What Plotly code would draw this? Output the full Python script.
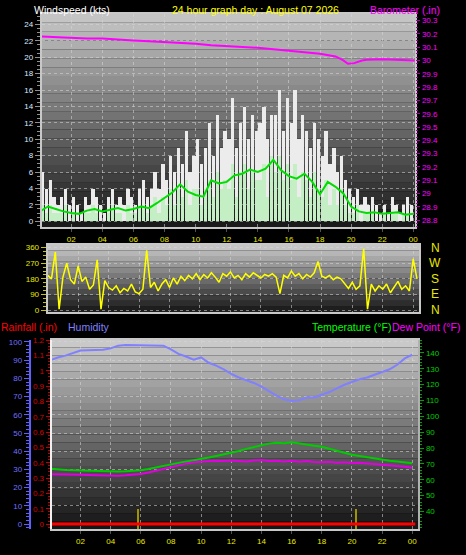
import plotly.graph_objects as go

W, H = 466, 555


def fx(px):
    return px / W


def fy(py):
    return 1 - py / H


# ---------------- data ----------------
hour_ticks = [2, 4, 6, 8, 10, 12, 14, 16, 18, 20, 22, 24]
hour_labels = ["02", "04", "06", "08", "10", "12", "14", "16", "18", "20", "22", "00"]

# wind (kts), 15-minute samples
wind_hours = [0.125 + 0.25 * i for i in range(96)]
gust = [
    6, 4, 5, 3, 2, 3, 4, 2, 3, 2, 1, 3, 2, 4, 3, 2, 1, 3, 4, 2, 3, 2, 4, 3,
    2, 4, 5, 3, 4, 6, 4, 7, 5, 8, 6, 9, 7, 11, 6, 8, 10, 7, 9, 12, 8, 13, 9, 11,
    10, 15, 9, 12, 14, 10, 13, 11, 12, 14, 10, 13, 13, 16, 11, 15, 12, 16, 10, 13, 11, 9, 12, 10,
    8, 11, 7, 9, 6, 8, 5, 4, 3, 4, 2, 3, 2, 3, 2, 1, 2, 1, 3, 2, 1, 2, 3, 2,
]
speed = [
    2, 1, 2, 1, 1, 1, 2, 0, 1, 0, 0, 1, 1, 2, 1, 0, 0, 1, 2, 1, 1, 0, 2, 1,
    1, 2, 2, 1, 2, 3, 1, 3, 2, 4, 2, 4, 3, 5, 2, 4, 4, 2, 4, 5, 3, 6, 4, 5,
    4, 7, 3, 6, 7, 4, 6, 5, 5, 7, 3, 8, 6, 8, 5, 7, 5, 7, 3, 6, 5, 3, 6, 4,
    3, 5, 2, 4, 2, 4, 2, 1, 1, 2, 0, 1, 1, 1, 0, 0, 1, 0, 1, 1, 0, 1, 1, 0,
]
avg_hours = [0.5 * i for i in range(49)]
avg_wind = [
    1.2, 1.8, 1.5, 1.2, 1.0, 0.9, 1.3, 1.5, 1.2, 1.4, 1.6, 1.3, 1.5, 1.8, 1.6, 2.2,
    2.8, 3.5, 4.5, 3.6, 3.2, 3.0, 5.0, 4.6, 4.8, 5.6, 5.8, 6.3, 6.0, 6.4, 7.5, 6.2,
    5.5, 5.2, 5.8, 4.8, 3.3, 4.8, 4.2, 3.4, 1.8, 1.2, 1.0, 1.1, 0.9, 1.0, 1.1, 0.8, 0.9,
]

# barometer (in)
baro_hours = [0.1, 1, 2, 3, 4, 5, 6, 7, 8, 9, 10, 11, 12, 13, 14, 15, 16, 17, 18, 19,
              19.5, 19.8, 20.2, 20.7, 21, 22, 23, 24, 24.1]
baro = [30.18, 30.175, 30.17, 30.165, 30.165, 30.155, 30.15, 30.145, 30.14, 30.135,
        30.125, 30.115, 30.11, 30.10, 30.095, 30.085, 30.075, 30.065, 30.05, 30.03,
        30.0, 29.975, 29.98, 30.0, 30.005, 30.01, 30.005, 30.0, 30.0]

# wind direction (degrees), 15-minute samples
dir_hours = [0.25 * i for i in range(98)]
wind_dir = [
    200, 180, 335, 5, 190, 270, 175, 150, 255, 165, 190, 120, 145, 290, 5, 170,
    130, 115, 140, 100, 125, 110, 150, 105, 95, 120, 345, 130, 160, 110, 150, 175,
    130, 185, 150, 195, 170, 200, 180, 210, 175, 205, 185, 215, 190, 160, 210, 195,
    220, 185, 200, 175, 210, 190, 215, 200, 185, 205, 195, 210, 190, 95, 200, 185,
    225, 195, 210, 180, 205, 190, 215, 280, 195, 185, 200, 175, 190, 180, 150, 125,
    160, 120, 140, 355, 5, 150, 110, 140, 120, 150, 100, 135, 165, 120, 140, 110,
    295, 180,
]

# humidity / temperature / dew point, 30-minute samples
thh_hours = [0.5 * i for i in range(49)]
humidity = [
    90, 91.5, 92.5, 94, 95.3, 95.5, 95.5, 95.7, 96.5, 98, 98.4, 98.4, 98.4, 98.4, 98.4, 98,
    96, 93.5, 92, 90.3, 91.5, 88.6, 87, 85, 82.5, 80.5, 79, 77.5, 75.5, 73, 70.5, 68.5,
    67.6, 68.0, 69.5, 69.5, 71, 72.5, 74.5, 76.5, 78, 79.5, 80.5, 82, 83.5, 85, 87.5, 91, 93,
]
temperature = [
    67.0, 66.5, 66.2, 66.0, 65.8, 65.6, 65.5, 65.4, 65.3, 65.2, 65.4, 65.6, 66.0, 66.8, 67.8, 68.8,
    69.8, 70.8, 71.6, 72.3, 73.0, 74.0, 75.0, 76.0, 77.0, 78.2, 79.5, 80.6, 81.8, 82.8, 83.3, 83.0,
    83.6, 83.0, 82.5, 81.5, 80.8, 79.5, 78.0, 76.8, 75.8, 75.0, 74.2, 73.4, 72.6, 72.0, 71.5, 70.8, 70.5,
]
dewpoint = [
    63.5, 63.5, 63.4, 63.3, 63.2, 63.0, 62.8, 62.7, 62.6, 62.6, 62.8, 63.0, 63.6, 64.6, 65.8, 67.0,
    68.2, 69.3, 70.2, 71.0, 71.6, 71.8, 72.0, 71.8, 72.2, 72.0, 71.6, 72.2, 72.4, 71.8, 72.0, 71.6,
    72.0, 71.4, 71.8, 71.2, 71.0, 71.4, 70.8, 71.0, 70.6, 70.8, 70.4, 70.0, 69.8, 69.4, 68.8, 68.2, 67.6,
]

# rainfall (in)
rain_hours = [0.1, 24.2]
rainfall = [0.0, 0.0]
mark_hours = [5.8, 20.25]
mark_len = [0.13, 0.13]

baro_ticks = [28.8, 28.9, 29.0, 29.1, 29.2, 29.3, 29.4, 29.5, 29.6, 29.7, 29.8, 29.9, 30.0, 30.1, 30.2, 30.3]
baro_labels = ["28.8", "28.9", "29", "29.1", "29.2", "29.3", "29.4", "29.5", "29.6", "29.7",
               "29.8", "29.9", "30", "30.1", "30.2", "30.3"]
rain_ticks = [0, 0.1, 0.2, 0.3, 0.4, 0.5, 0.6, 0.7, 0.8, 0.9, 1.0, 1.1, 1.2]
rain_labels = ["0", "0.1", "0.2", "0.3", "0.4", "0.5", "0.6", "0.7", "0.8", "0.9", "1", "1.1", "1.2"]

# ---------------- figure ----------------
FONT = "Liberation Sans, Arial, sans-serif"
GRID = "rgba(215,215,215,0.55)"
TICK_SIZE = 8

fig = go.Figure()

fig.add_trace(go.Bar(x=wind_hours, y=gust, width=0.21, marker=dict(color="#ececec", line=dict(width=0)),
                     xaxis="x", yaxis="y"))
fig.add_trace(go.Bar(x=wind_hours, y=speed, width=0.21, marker=dict(color="#c4eec4", line=dict(width=0)),
                     xaxis="x", yaxis="y"))
fig.add_trace(go.Scatter(x=avg_hours, y=avg_wind, mode="lines", line=dict(color="#00dd00", width=2),
                         xaxis="x", yaxis="y"))
fig.add_trace(go.Scatter(x=baro_hours, y=baro, mode="lines", line=dict(color="#ff00ff", width=2),
                         xaxis="x", yaxis="y2"))
fig.add_trace(go.Scatter(x=dir_hours, y=wind_dir, mode="lines", line=dict(color="#ffff00", width=1.5),
                         xaxis="x3", yaxis="y3"))
fig.add_trace(go.Scatter(x=thh_hours, y=humidity, mode="lines", line=dict(color="#8080ff", width=2),
                         xaxis="x4", yaxis="y4"))
fig.add_trace(go.Scatter(x=thh_hours, y=temperature, mode="lines", line=dict(color="#00cc00", width=2),
                         xaxis="x4", yaxis="y6"))
fig.add_trace(go.Scatter(x=thh_hours, y=dewpoint, mode="lines", line=dict(color="#e000e0", width=2),
                         xaxis="x4", yaxis="y6"))
fig.add_trace(go.Bar(x=mark_hours, y=mark_len, base=[-0.03, -0.03], width=0.1,
                     marker=dict(color="#a09400", line=dict(width=0)), xaxis="x4", yaxis="y5"))
fig.add_trace(go.Scatter(x=rain_hours, y=rainfall, mode="lines", line=dict(color="#ff0000", width=3),
                         xaxis="x4", yaxis="y5"))

# gradient backgrounds
shapes = []


def gradient(xr, yr, top, bottom, n):
    for i in range(n):
        g = int(round(bottom + (top - bottom) * (i + 0.5) / n))
        shapes.append(dict(type="rect", xref=xr, yref=yr, x0=0, x1=1, y0=i / n, y1=(i + 1) / n,
                           fillcolor=f"rgb({g},{g},{g})", line=dict(width=0), layer="below"))


gradient("x domain", "y domain", 200, 22, 24)
gradient("x3 domain", "y3 domain", 205, 22, 12)
gradient("x4 domain", "y4 domain", 205, 18, 24)

tickfont = dict(family=FONT, size=TICK_SIZE)


def xax(domain, rng, anchor, labels=True):
    return dict(domain=domain, range=rng, anchor=anchor, tickvals=hour_ticks, ticktext=hour_labels,
                showticklabels=labels, tickfont=dict(tickfont, color="#e8e800"),
                ticks="outside" if labels else "", ticklen=3, tickcolor="#505050",
                showgrid=True, gridcolor=GRID, griddash="dot", gridwidth=1, zeroline=False,
                showline=True, linecolor="#c8c8c8", linewidth=2, mirror=True, fixedrange=True)


fig.update_layout(
    width=W, height=H, autosize=False,
    margin=dict(l=0, r=0, t=0, b=0),
    paper_bgcolor="#000000", plot_bgcolor="#000000",
    showlegend=False, barmode="overlay", bargap=0,
    font=dict(family=FONT, size=TICK_SIZE, color="#ffffff"),
    shapes=shapes,
    xaxis=xax([fx(42), fx(418)], [0.1, 24.13], "y"),
    yaxis=dict(domain=[fy(226), fy(10)], range=[-0.72, 25.29], tickvals=list(range(0, 25, 2)),
               ticks="outside", ticklen=5, tickcolor="#909090",
               minor=dict(ticks="outside", ticklen=3, tickcolor="#909090", dtick=0.5, showgrid=False),
               tickfont=dict(tickfont, color="#dfe8ff"), showgrid=True, gridcolor=GRID,
               griddash="dot", zeroline=False, showline=True, linecolor="#c8c8c8", linewidth=2,
               mirror=True, anchor="x"),
    yaxis2=dict(overlaying="y", side="right", anchor="x", range=[28.748, 30.35],
                tickvals=baro_ticks, ticktext=baro_labels, ticks="outside", ticklen=4,
                tickcolor="#a000a0",
                minor=dict(ticks="outside", ticklen=2, tickcolor="#a000a0", dtick=0.025, showgrid=False),
                tickfont=dict(tickfont, color="#ff00ff"), showgrid=False, zeroline=False),
    xaxis3=xax([fx(48), fx(422)], [0, 24.4], "y3", labels=False),
    yaxis3=dict(domain=[fy(312), fy(244)], range=[-11.4, 375.4], tickvals=[0, 90, 180, 270, 360],
                ticks="outside", ticklen=5, tickcolor="#c8c800",
                minor=dict(ticks="outside", ticklen=3, tickcolor="#c8c800", dtick=22.5, showgrid=False),
                tickfont=dict(tickfont, color="#e8e800"), showgrid=True, gridcolor=GRID, griddash="dot",
                zeroline=False, showline=True, linecolor="#c8c8c8", linewidth=2, mirror=True,
                anchor="x3"),
    xaxis4=xax([fx(52), fx(421)], [0.09, 24.4], "y4"),
    yaxis4=dict(domain=[fy(532), fy(340)], range=[-2.87, 101.25], anchor="free", position=fx(30),
                side="left", tickvals=list(range(0, 101, 10)), ticks="outside", ticklen=5,
                tickcolor="#6060ff",
                minor=dict(ticks="outside", ticklen=3, tickcolor="#6060ff", dtick=2, showgrid=False),
                tickfont=dict(tickfont, color="#7070ff"), showgrid=True, gridcolor=GRID,
                griddash="dot", zeroline=False, showline=True, linecolor="#6060ff", linewidth=2),
    yaxis5=dict(overlaying="y4", anchor="x4", side="left", range=[-0.034, 1.203],
                tickvals=rain_ticks, ticktext=rain_labels, ticks="outside", ticklen=4,
                tickcolor="#c00000",
                minor=dict(ticks="outside", ticklen=2, tickcolor="#c00000", dtick=0.02, showgrid=False),
                tickfont=dict(tickfont, color="#d80000"), showgrid=False, zeroline=False,
                showline=True, linecolor="#f0f0f0", linewidth=2),
    yaxis6=dict(overlaying="y4", anchor="x4", side="right", range=[28.8, 148.3],
                tickvals=list(range(40, 141, 10)), ticks="outside", ticklen=4, tickcolor="#00a000",
                minor=dict(ticks="outside", ticklen=2, tickcolor="#00a000", dtick=2, showgrid=False),
                tickfont=dict(tickfont, color="#00cc00"), showgrid=False, zeroline=False,
                showline=True, linecolor="#b0b0b0", linewidth=2),
)

ann = []


def label(text, px, py, color, xanchor="left", size=10.5):
    ann.append(dict(text=text, x=fx(px), y=fy(py), xref="paper", yref="paper", showarrow=False,
                    xanchor=xanchor, yanchor="middle", borderpad=0,
                    font=dict(family=FONT, size=size, color=color)))


label("Windspeed (kts)", 33, 6, "#ffffff")
label("24 hour graph day : August 07 2026", 172, 6, "#ffff00")
label("Barometer (.in)", 371, 6, "#ff00ff")
label("Rainfall (.in)", 0, 327, "#ff0000")
label("Humidity", 67, 327, "#8080ff")
label("Temperature (°F)", 313, 327, "#00ff00")
label("Dew Point (°F)", 394, 327, "#ff00ff")

for letter, deg in [("N", 360), ("W", 270), ("S", 180), ("E", 90), ("N", 0)]:
    ann.append(dict(text=letter, x=fx(438), y=deg, xref="paper", yref="y3", showarrow=False,
                    xanchor="center", yanchor="middle", font=dict(family=FONT, size=12, color="#e8e800")))

fig.update_layout(annotations=ann)

fig.write_html("out.html", config={"displayModeBar": False},
               post_script="document.body.style.margin='0px';")
